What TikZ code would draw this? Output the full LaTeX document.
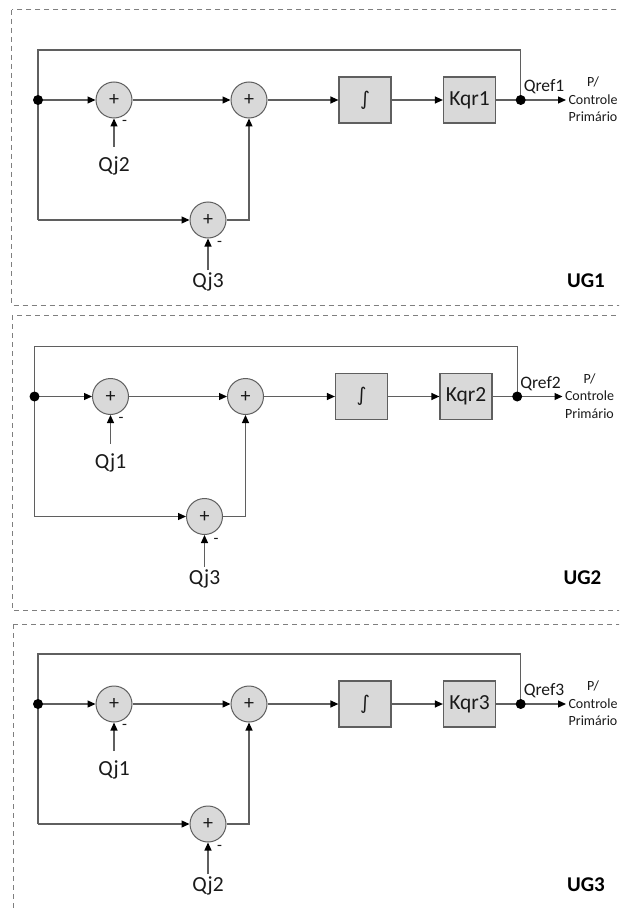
\documentclass[tikz,border=0pt]{standalone}
\usepackage{fontspec}
\setmainfont{Carlito}
\newfontfamily\symfont{DejaVu Sans}
\usetikzlibrary{arrows.meta,calc}
\definecolor{ln}{HTML}{5F5F5F}
\definecolor{blockfill}{HTML}{D9D9D9}
\definecolor{framecol}{HTML}{7F7F7F}
\definecolor{txt}{HTML}{1A1A1A}
\tikzset{
  wire/.style={draw=ln, line width=1.2pt},
  arr/.style={wire, -{Triangle[length=8pt,width=7pt,color=black]}},
  sumnode/.style={circle, draw=ln, fill=blockfill, minimum size=36pt, inner sep=0pt, line width=1pt, text=txt, font=\fontsize{20}{20}\selectfont},
  blk/.style={rectangle, draw=ln, fill=blockfill, minimum width=52pt, minimum height=46pt, inner sep=0pt, line width=1.2pt, text=txt, font=\fontsize{21.5}{21.5}\selectfont},
  dotn/.style={circle, fill=black, minimum size=10pt, inner sep=0pt},
  lbl/.style={inner sep=0pt, text=txt, font=\fontsize{21.5}{21.5}\selectfont},
  minus/.style={inner sep=0pt, text=txt, font=\fontsize{16}{16}\selectfont},
  qref/.style={inner sep=0pt, text=txt, font=\fontsize{17.5}{17.5}\selectfont},
  dest/.style={inner sep=0pt, align=center, text=txt, font=\fontsize{14}{17.5}\selectfont},
  ug/.style={inner sep=0pt, text=black, font=\fontsize{21}{21}\selectfont\bfseries},
  frame/.style={draw=framecol, line width=1pt, dash pattern=on 5pt off 4pt}
}
\newcommand\ugpanel[5]{%
\begin{scope}[shift={#1}]
  \coordinate (#2TL) at (38,50);
  \coordinate (#2TR) at (520.7,50);
  \coordinate (#2BL) at (38,220);
  \coordinate (#2J) at (38,100);
  \coordinate (#2O) at (520.7,100);
  \node[sumnode] (#2S1) at (114,100) {+};
  \node[sumnode] (#2S2) at (249,100) {+};
  \node[sumnode] (#2S3) at (208,220) {+};
  \node[blk] (#2I) at (365,100) {{\symfont\fontsize{19}{19}\selectfont ∫}};
  \node[blk] (#2K) at (469.5,100) {Kqr#5};
  \coordinate (#2E) at (566,100);
  \coordinate (#2QAt) at (114,147);
  \coordinate (#2QBt) at (208,270);
  \node[lbl] (#2QA) at (114,166) {Qj#3};
  \node[lbl] (#2QB) at (208,282) {Qj#4};
  \node[minus] (#2MA) at (124.5,123) {-};
  \node[minus] (#2MB) at (219.5,244) {-};
  \node[qref] (#2R) at (544,87) {Qref#5};
  \node[dest] (#2D) at (593,99.5) {P/\\Controle\\Primário};
  \node[ug] (#2U) at (586,281) {UG#5};
  \draw[wire] (#2O) -- (#2TR) -- (#2TL) -- (#2BL);
  \draw[arr] (#2J) -- (#2S1.west);
  \draw[arr] (#2S1.east) -- (#2S2.west);
  \draw[arr] (#2S2.east) -- (#2I.west);
  \draw[arr] (#2I.east) -- (#2K.west);
  \draw[wire] (#2K.east) -- (#2O);
  \draw[arr] (#2O) -- (#2E);
  \draw[arr] (#2BL) -- (#2S3.west);
  \draw[arr] (#2S3.east) -| (#2S2.south);
  \draw[arr] (#2QAt) -- (#2S1.south);
  \draw[arr] (#2QBt) -- (#2S3.south);
  \node[dotn] (#2Jd) at (#2J) {};
  \node[dotn] (#2Od) at (#2O) {};
\end{scope}}
\begin{document}
\begin{tikzpicture}[x=1pt,y=-1pt]
  \useasboundingbox (0,0) rectangle (619,912);
  \clip (0,0) rectangle (619,912);
  \fill[white] (0,0) rectangle (619,912);
  \draw[frame] (11.7,10) rectangle (640,305);
  \draw[frame] (12.3,315) rectangle (640,610);
  \draw[frame] (13.3,624) rectangle (640,940);
  \ugpanel{(0,0)}{a}{2}{3}{1}
  \ugpanel{(-3.5,296.5)}{b}{1}{3}{2}
  \ugpanel{(0,604)}{c}{1}{2}{3}
\end{tikzpicture}
\end{document}
